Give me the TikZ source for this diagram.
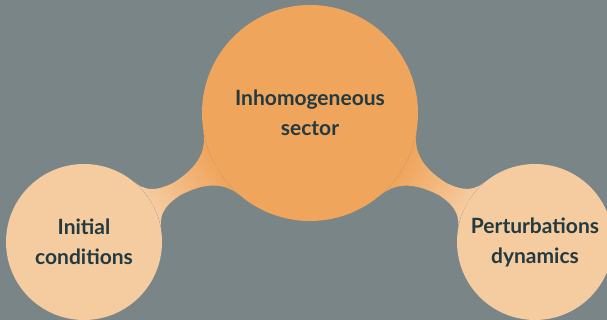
\documentclass[tikz,border=0pt]{standalone}
\usepackage{fontspec}
\setmainfont{Lato}
\usetikzlibrary{mindmap}
\definecolor{slate}{HTML}{7A8587}
\definecolor{hub}{HTML}{F0A55C}
\definecolor{leaf}{HTML}{F5CBA0}
\definecolor{ink}{HTML}{223A40}
\begin{document}
\begin{tikzpicture}[x=1pt,y=1pt,font=\fontsize{21}{30}\selectfont\bfseries,
bubble/.style={circle,text=ink,align=center,inner sep=0pt},
hubbox/.style={bubble,fill=hub,minimum size=216pt},
leafbox/.style={bubble,fill=leaf,minimum size=156pt},
link/.style={line width=14pt}]
\fill[slate] (0,0) rectangle (607,320);
\clip (0,0) rectangle (607,320);
\node[hubbox] (sector) at (310,207) {Inhomogeneous\\sector};
\node[leafbox] (init) at (84,78) {Initial\\conditions};
\node[leafbox] (pert) at (535,78) {Perturbations\\dynamics};
\path[link] (sector) to[circle connection bar switch color=from (hub) to (leaf)] (init);
\path[link] (sector) to[circle connection bar switch color=from (hub) to (leaf)] (pert);
\end{tikzpicture}
\end{document}
